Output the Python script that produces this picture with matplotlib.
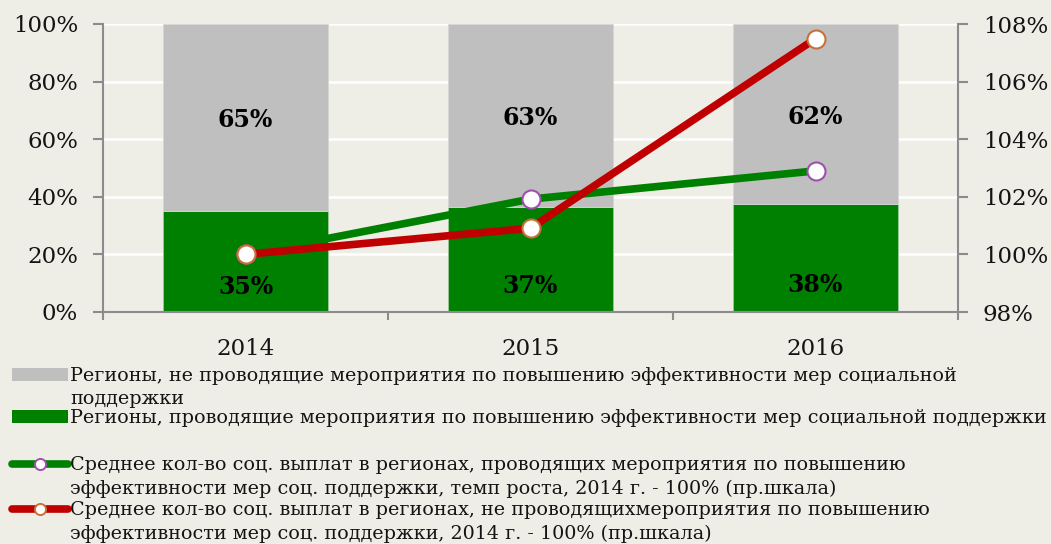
import matplotlib
matplotlib.use("Agg")
import matplotlib.pyplot as plt
from matplotlib.ticker import PercentFormatter, FixedLocator
from matplotlib.patches import Rectangle
from matplotlib.lines import Line2D

years = ["2014", "2015", "2016"]
share_active = [0.35, 0.365, 0.374]          # green bars
share_inactive = [0.65, 0.635, 0.626]        # gray bars
label_active = ["35%", "37%", "38%"]
label_inactive = ["65%", "63%", "62%"]
growth_active = [1.000, 1.0192, 1.029]       # green line (right axis)
growth_inactive = [1.000, 1.0091, 1.0749]    # red line (right axis)

legend_labels = [
    "Регионы, не проводящие мероприятия по повышению эффективности мер социальной\nподдержки",
    "Регионы, проводящие мероприятия по повышению эффективности мер социальной поддержки",
    "Среднее кол-во соц. выплат в регионах, проводящих мероприятия по повышению\nэффективности мер соц. поддержки, темп роста, 2014 г. - 100% (пр.шкала)",
    "Среднее кол-во соц. выплат в регионах, не проводящихмероприятия по повышению\nэффективности мер соц. поддержки, 2014 г. - 100% (пр.шкала)",
]

BG = "#EEEDE6"
GRAY = "#BFBFBF"
GREEN = "#008000"
RED = "#C00000"
SPINE = "#8C8C8C"
TXT = "#141414"
SERIF = ["DejaVu Serif"]

fig = plt.figure(figsize=(10.51, 5.44), dpi=100, facecolor=BG)
ax = fig.add_axes([103/1051, 1-312/544, (958-103)/1051, (312-24)/544])
ax.set_facecolor(BG)

x = list(range(len(years)))
w = 0.58
ax.bar(x, share_active, width=w, color=GREEN, edgecolor="#9CC89C", linewidth=0.6, zorder=2)
ax.bar(x, share_inactive, width=w, bottom=share_active, color=GRAY, edgecolor="#D6D6D6", linewidth=0.6, zorder=2)

ax.set_xlim(-0.5, 2.5)
ax.set_ylim(0, 1)
ax.yaxis.set_major_locator(FixedLocator([0, 0.2, 0.4, 0.6, 0.8, 1.0]))
ax.yaxis.set_major_formatter(PercentFormatter(1.0, decimals=0))
ax.grid(axis="y", color="white", linewidth=1.8, zorder=1)
ax.set_axisbelow(True)
ax.set_xticks(x)
ax.set_xticklabels(years)
ax.set_xticks([-0.5, 0.5, 1.5, 2.5], minor=True)
ax.tick_params(axis="x", which="major", length=0, pad=19, labelsize=16.5, labelcolor=TXT)
ax.tick_params(axis="x", which="minor", length=6, width=1.5, color=SPINE, direction="out")
ax.tick_params(axis="y", length=7, width=1.5, color=SPINE, direction="out", pad=11,
               labelsize=16.5, labelcolor=TXT)
for lab in ax.get_xticklabels() + ax.get_yticklabels():
    lab.set_family(SERIF)
for s in ["top", "right"]:
    ax.spines[s].set_visible(False)
for s in ["left", "bottom"]:
    ax.spines[s].set_color(SPINE)
    ax.spines[s].set_linewidth(1.5)

# data labels
for i in x:
    ax.text(i, share_active[i] * 0.25, label_active[i], ha="center", va="center",
            fontsize=17, fontweight="bold", color="black", family=SERIF, zorder=5)
    ax.text(i, share_active[i] + share_inactive[i] * 0.485, label_inactive[i], ha="center",
            va="center", fontsize=17, fontweight="bold", color="black", family=SERIF, zorder=5)

ax2 = ax.twinx()
ax2.set_ylim(0.98, 1.08)
ax2.yaxis.set_major_locator(FixedLocator([0.98, 1.00, 1.02, 1.04, 1.06, 1.08]))
ax2.yaxis.set_major_formatter(PercentFormatter(1.0, decimals=0))
ax2.tick_params(axis="y", length=7, width=1.5, color=SPINE, direction="out", pad=11,
                labelsize=16.5, labelcolor=TXT)
for lab in ax2.get_yticklabels():
    lab.set_family(SERIF)
for s in ["top", "left", "bottom"]:
    ax2.spines[s].set_visible(False)
ax2.spines["right"].set_color(SPINE)
ax2.spines["right"].set_linewidth(1.5)

ax2.plot(x, growth_active, color=GREEN, linewidth=5.5, marker="o", markersize=13,
         markerfacecolor="white", markeredgecolor="#A04FB0", markeredgewidth=1.5,
         solid_capstyle="butt", zorder=3)
ax2.plot(x, growth_inactive, color=RED, linewidth=5.5, marker="o", markersize=13,
         markerfacecolor="white", markeredgecolor="#C8703A", markeredgewidth=1.5,
         solid_capstyle="butt", zorder=4)

# legend drawn manually
W, H = 1051, 544
def fx(px):
    return px / W
def fy(py):
    return 1 - py / H

entry_y = [375, 417, 464, 509]
for k, (lab, ey) in enumerate(zip(legend_labels, entry_y)):
    if k == 0:
        fig.add_artist(Rectangle((fx(12), fy(381)), fx(56), 13 / H, transform=fig.transFigure,
                                 facecolor=GRAY, edgecolor="none"))
    elif k == 1:
        fig.add_artist(Rectangle((fx(12), fy(ey + 6)), fx(56), 13 / H, transform=fig.transFigure,
                                 facecolor=GREEN, edgecolor="none"))
    else:
        col = GREEN if k == 2 else RED
        mec = "#A04FB0" if k == 2 else "#C8703A"
        fig.add_artist(Line2D([fx(12), fx(68)], [fy(ey), fy(ey)], transform=fig.transFigure,
                              color=col, linewidth=5.5, solid_capstyle="round"))
        fig.add_artist(Line2D([fx(40)], [fy(ey)], transform=fig.transFigure, marker="o",
                              markersize=8, markerfacecolor="white", markeredgecolor=mec,
                              markeredgewidth=1.4, linestyle="none"))
    fig.text(fx(70), fy(ey - 8), lab, ha="left", va="top", fontsize=13.8, color=TXT,
             family=SERIF, linespacing=1.38)

fig.savefig("out.png", dpi=100, facecolor=BG)
